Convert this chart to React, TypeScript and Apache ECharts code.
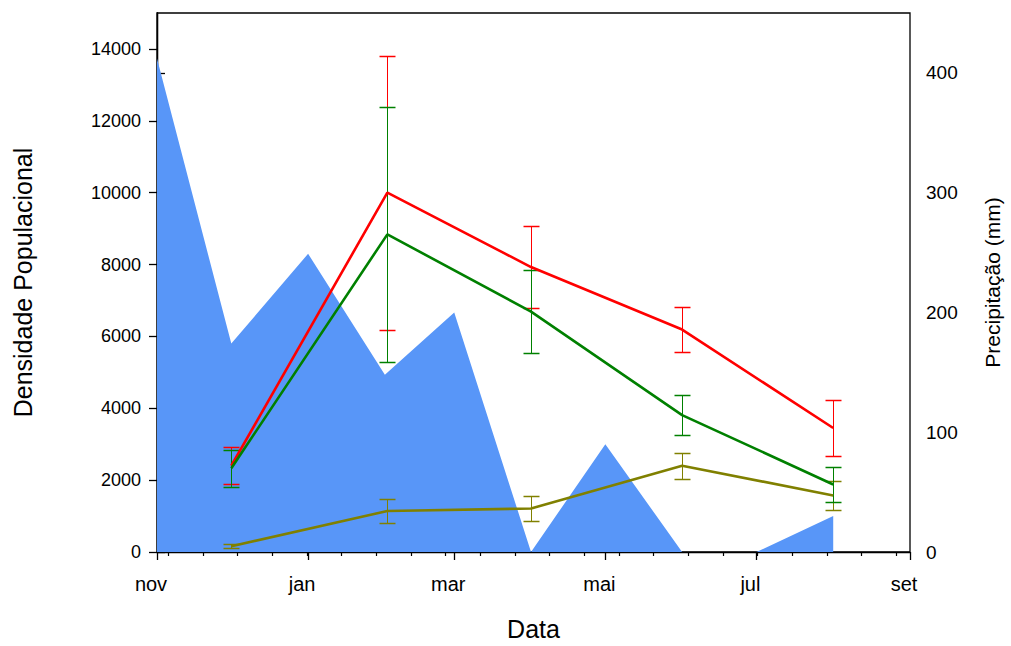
import React, { useEffect, useRef } from "react";
import * as echarts from "echarts";

// x values are days since 1 November
const monthTickDays = [0, 61, 120, 181, 242, 304];
const monthLabels = ["nov", "jan", "mar", "mai", "jul", "set"];
const minorTickDays = [4.5, 18.5, 32.5, 46.5, 60.5, 74.5, 88.5, 102.5, 116.5, 130.5, 144.5, 158.5, 172.5, 186.5, 200.5, 214.5, 228.5, 242.5, 256.5, 270.5, 284.5, 298.5];

const leftTicks = [0, 2000, 4000, 6000, 8000, 10000, 12000, 14000];
const rightTicks = [0, 100, 200, 300, 400];

// precipitation (mm), monthly
const precipDays = [0, 30, 61, 92, 120, 151, 181, 212, 242, 273];
const precipValues = [412, 174, 249, 148, 200, 0, 90, 0, 0, 30];

// population density samples
const sampleDays = [30, 93, 151, 212, 273];
const redMean = [2400, 10000, 7930, 6190, 3450];
const redErr = [510, 3810, 1150, 635, 790];
const greenMean = [2330, 8840, 6690, 3810, 1880];
const greenErr = [510, 3540, 1150, 550, 490];
const oliveMean = [160, 1140, 1210, 2400, 1575];
const oliveErr = [55, 340, 350, 360, 400];

const FONT = "Liberation Sans, Arial, sans-serif";

function lineSeries(mean: number[], color: string) {
  return {
    type: "line",
    xAxisIndex: 0,
    yAxisIndex: 0,
    symbol: "none",
    z: 5,
    lineStyle: { color, width: 2.6 },
    data: sampleDays.map((d, i) => [d, mean[i]]),
  };
}

function errSeries(mean: number[], err: number[], color: string, z: number) {
  return {
    type: "custom",
    xAxisIndex: 0,
    yAxisIndex: 0,
    z,
    encode: { x: 0, y: [1, 2] },
    data: sampleDays.map((d, i) => [d, mean[i] - err[i], mean[i] + err[i]]),
    renderItem: (params: any, api: any) => {
      const x = api.value(0);
      const p1 = api.coord([x, api.value(1)]);
      const p2 = api.coord([x, api.value(2)]);
      const cx = Math.round(p1[0]) + 0.5;
      const y1 = Math.round(p1[1]) + 0.5;
      const y2 = Math.round(p2[1]) + 0.5;
      const hw = 8;
      const style = { stroke: color, lineWidth: 1, fill: null };
      return {
        type: "group",
        children: [
          { type: "line", shape: { x1: cx, y1, x2: cx, y2 }, style },
          { type: "line", shape: { x1: cx - hw, y1, x2: cx + hw, y2: y1 }, style: { ...style, lineWidth: 1.5 } },
          { type: "line", shape: { x1: cx - hw, y1: y2, x2: cx + hw, y2 }, style: { ...style, lineWidth: 1.5 } },
        ],
      };
    },
  };
}

export default function App() {
  const ref = useRef<HTMLDivElement>(null);
  useEffect(() => {
    if (!ref.current) return;
    const chart = echarts.init(ref.current, null, { renderer: "svg" });
    const axisLine = { show: true, lineStyle: { color: "#000", width: 1.3 } };
    chart.setOption({
      animation: false,
      backgroundColor: "#fff",
      textStyle: { fontFamily: FONT },
      grid: {
        left: 157,
        right: 99,
        top: 13,
        bottom: 89,
        show: true,
        borderColor: "#000",
        borderWidth: 1.3,
        backgroundColor: "transparent",
      },
      xAxis: [
        {
          type: "value",
          min: 0,
          max: 304,
          position: "bottom",
          axisLine,
          axisTick: { show: true, length: 8, customValues: monthTickDays, lineStyle: { color: "#000", width: 1.3 } },
          axisLabel: {
            customValues: monthTickDays,
            formatter: (v: number) => {
              const i = monthTickDays.indexOf(v);
              return i >= 0 ? monthLabels[i] : "";
            },
            color: "#000",
            fontSize: 20,
            fontFamily: FONT,
            margin: 22,
            padding: [0, 12, 0, 0],
          },
          splitLine: { show: false },
          name: "Data",
          nameLocation: "middle",
          nameGap: 64,
          nameTextStyle: { color: "#000", fontSize: 25, fontFamily: FONT },
        },
        {
          type: "value",
          min: 0,
          max: 304,
          position: "bottom",
          axisLine: { show: false },
          axisTick: { show: true, length: 4, customValues: minorTickDays, lineStyle: { color: "#000", width: 1.2 } },
          axisLabel: { show: false },
          splitLine: { show: false },
        },
      ],
      yAxis: [
        {
          type: "value",
          min: 0,
          max: 15000,
          position: "left",
          axisLine,
          axisTick: { show: true, length: 8, customValues: leftTicks, lineStyle: { color: "#000", width: 1.3 } },
          axisLabel: {
            customValues: leftTicks,
            formatter: (v: number) => String(v),
            color: "#000",
            fontSize: 18,
            fontFamily: FONT,
            margin: 16,
          },
          splitLine: { show: false },
          name: "Densidade Populacional",
          nameLocation: "middle",
          nameGap: 122,
          nameTextStyle: { color: "#000", fontSize: 25, fontFamily: FONT },
        },
        {
          type: "value",
          min: 0,
          max: 450,
          position: "right",
          axisLine,
          axisTick: { show: true, length: 8, customValues: rightTicks, lineStyle: { color: "#000", width: 1.3 } },
          axisLabel: {
            customValues: rightTicks,
            formatter: (v: number) => String(v),
            color: "#000",
            fontSize: 19,
            fontFamily: FONT,
            margin: 16,
          },
          splitLine: { show: false },
          name: "Precipitação (mm)",
          nameLocation: "middle",
          nameGap: 72,
          nameTextStyle: { color: "#000", fontSize: 21, fontFamily: FONT },
        },
      ],
      series: [
        {
          type: "line",
          xAxisIndex: 0,
          yAxisIndex: 1,
          symbol: "none",
          z: 1,
          lineStyle: { width: 0, color: "#5896F8" },
          areaStyle: { color: "#5896F8", opacity: 1 },
          data: precipDays.map((d, i) => [d, precipValues[i]]),
        },
        errSeries(oliveMean, oliveErr, "#808000", 3),
        errSeries(redMean, redErr, "#FF0000", 3.1),
        errSeries(greenMean, greenErr, "#008000", 3.2),
        lineSeries(redMean, "#FF0000"),
        lineSeries(greenMean, "#008000"),
        lineSeries(oliveMean, "#808000"),
      ],
    });
    return () => chart.dispose();
  }, []);
  return (
    <div
      ref={ref}
      style={{ position: "fixed", left: 0, top: 0, width: 1011, height: 646, background: "#fff" }}
    />
  );
}
